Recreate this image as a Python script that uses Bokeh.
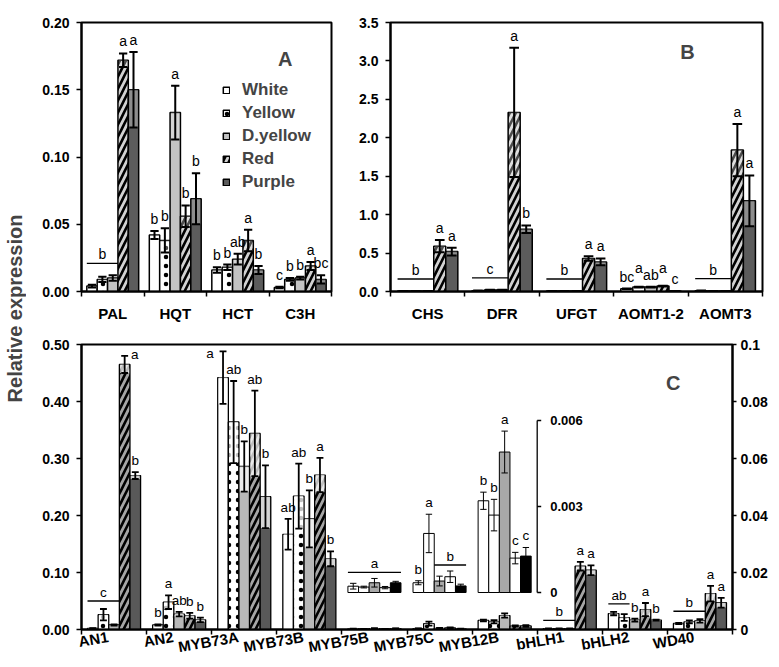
import math
from bokeh.plotting import figure
from bokeh.models import (Range1d, LinearAxis, FixedTicker, Legend, LegendItem, Label,
                          NumeralTickFormatter, CustomJSTickFormatter)
from bokeh.layouts import row, column
from bokeh.embed import file_html
from bokeh.resources import INLINE
from bokeh.core.properties import value

FONT = "Liberation Sans"
SERIES = ["White", "Yellow", "D.yellow", "Red", "Purple"]

# ---------------- Panel A ----------------
A_GENES = ["PAL", "HQT", "HCT", "C3H"]
A_WHITE = [0.004, 0.042, 0.016, 0.003]
A_YELLOW = [0.009, 0.038, 0.018, 0.009]
A_DYELLOW = [0.010, 0.133, 0.024, 0.010]
A_RED = [0.172, 0.056, 0.038, 0.019]
A_PURPLE = [0.150, 0.069, 0.016, 0.009]
A_WHITE_ERR = [0.001, 0.003, 0.002, 0.0005]
A_YELLOW_ERR = [0.002, 0.009, 0.002, 0.001]
A_DYELLOW_ERR = [0.002, 0.020, 0.004, 0.001]
A_RED_ERR = [0.005, 0.008, 0.008, 0.003]
A_PURPLE_ERR = [0.028, 0.019, 0.003, 0.003]
A_LETTERS = [
    ["", "", "", "a", "a"],
    ["b", "b", "a", "b", "b"],
    ["b", "b", "ab", "a", "b"],
    ["c", "b", "b", "a", "bc"],
]
A_LINES = [(0, 0, 2, "b")]
A_TICKS = [0.0, 0.05, 0.10, 0.15, 0.20]

# ---------------- Panel B ----------------
B_GENES = ["CHS", "DFR", "UFGT", "AOMT1-2", "AOMT3"]
B_WHITE = [0.005, 0.010, 0.005, 0.035, 0.010]
B_YELLOW = [0.005, 0.020, 0.005, 0.057, 0.005]
B_DYELLOW = [0.005, 0.020, 0.005, 0.057, 0.005]
B_RED = [0.590, 2.330, 0.430, 0.070, 1.840]
B_PURPLE = [0.520, 0.810, 0.385, 0.005, 1.180]
B_WHITE_ERR = [0.002, 0.003, 0.002, 0.003, 0.002]
B_YELLOW_ERR = [0.002, 0.003, 0.002, 0.004, 0.002]
B_DYELLOW_ERR = [0.002, 0.003, 0.002, 0.004, 0.002]
B_RED_ERR = [0.080, 0.840, 0.030, 0.005, 0.340]
B_PURPLE_ERR = [0.050, 0.050, 0.045, 0.002, 0.330]
B_LETTERS = [
    ["", "", "", "a", "a"],
    ["", "", "", "a", "b"],
    ["", "", "", "a", "a"],
    ["bc", "a", "ab", "a", "c"],
    ["", "", "", "a", "a"],
]
B_LINES = [(0, 0, 2, "b"), (1, 0, 2, "c"), (2, 0, 2, "b"), (4, 0, 2, "b")]
B_TICKS = [0.0, 0.5, 1.0, 1.5, 2.0, 2.5, 3.0, 3.5]

# ---------------- Panel C ----------------
C_GENES = ["AN1", "AN2", "MYB73A", "MYB73B", "MYB75B", "MYB75C", "MYB12B",
           "bHLH1", "bHLH2", "WD40"]
C_WHITE = [0.002, 0.008, 0.442, 0.167, 0.00022, 0.00034, 0.0032, 0.0003, 0.0056, 0.0021]
C_YELLOW = [0.026, 0.048, 0.364, 0.234, 0.00019, 0.00206, 0.0027, 0.0003, 0.0042, 0.0027]
C_DYELLOW = [0.008, 0.027, 0.286, 0.194, 0.00034, 0.00040, 0.0049, 0.0003, 0.0033, 0.0030]
C_RED = [0.465, 0.024, 0.344, 0.271, 0.00017, 0.00055, 0.0012, 0.0222, 0.0070, 0.0126]
C_PURPLE = [0.270, 0.017, 0.233, 0.124, 0.00034, 0.00023, 0.00127, 0.0208, 0.0033, 0.0094]
C_WHITE_ERR = [0.0005, 0.001, 0.046, 0.027, 0.0001, 0.00007, 0.0003, 0.0001, 0.0006, 0.0002]
C_YELLOW_ERR = [0.010, 0.012, 0.072, 0.057, 0.00003, 0.00067, 0.00055, 0.0001, 0.0012, 0.0005]
C_DYELLOW_ERR = [0.001, 0.004, 0.044, 0.050, 0.00015, 0.00017, 0.00073, 0.0001, 0.0005, 0.0006]
C_RED_ERR = [0.015, 0.005, 0.075, 0.030, 0.00004, 0.00020, 0.00020, 0.0015, 0.0023, 0.0027]
C_PURPLE_ERR = [0.006, 0.004, 0.055, 0.013, 0.00005, 0.00006, 0.00030, 0.0017, 0.0002, 0.0017]
C_LETTERS = [
    ["", "", "", "a", "b"],
    ["b", "a", "ab", "b", "b"],
    ["a", "ab", "b", "ab", "b"],
    ["ab", "ab", "b", "a", "b"],
    ["", "", "", "", ""],
    ["b", "a", "", "", ""],
    ["b", "b", "a", "c", "c"],
    ["", "", "", "a", "a"],
    ["", "", "b", "a", "b"],
    ["", "", "", "a", "a"],
]
C_LINES = [(0, 0, 2, "c"), (4, 0, 4, "a"), (5, 2, 4, "b"), (7, 0, 2, "b"),
           (8, 0, 1, "ab"), (9, 0, 2, "b")]
C_LEFT_TICKS = [0.0, 0.1, 0.2, 0.3, 0.4, 0.5]
C_RIGHT_TICKS = [0.0, 0.02, 0.04, 0.06, 0.08, 0.1]
INSET_TICKS = [0.0, 0.003, 0.006]
C_LEFT_GROUPS = [0, 1, 2, 3]
C_RIGHT_GROUPS = [4, 5, 6, 7, 8, 9]
C_INSET_GROUPS = [4, 5, 6]

# ---------------- styles ----------------
FILLS_AB = ["#ffffff", "#ffffff", "#c3c3c3", "#d2d2d2", "#5c5c5c"]
FILLS_C = ["#ffffff", "#ffffff", "#b8b8b8", "#a6a6a6", "#595959"]
FILLS_INSET = ["#ffffff", "#ffffff", "#a8a8a8", "#ffffff", "#000000"]
HATCHES = [None, (".", 9, 1.3), None, ("/", 12, 2.6), None]
NUDGE_B = {(3, 1): (0, 7), (3, 3): (0, 6)}
NUDGE_C = {(0, 3): (10, -10), (2, 0): (-13, -14)}


def style_y(ax, standoff=7, tick_out=5):
    ax.axis_line_width = 2
    ax.axis_line_color = "black"
    ax.major_tick_out = tick_out
    ax.major_tick_in = 0
    ax.major_tick_line_width = 1.5
    ax.minor_tick_line_color = None
    ax.major_label_text_font = FONT
    ax.major_label_text_font_style = "bold"
    ax.major_label_text_font_size = "14px"
    ax.major_label_text_color = "black"
    ax.major_label_standoff = standoff


def make_fig(width, height, n, ymax, ticks, fmt, genes, borders, label_shift=0.0,
             orient="horizontal", xstandoff=8):
    p = figure(width=width, height=height, x_range=Range1d(0, n), y_range=Range1d(0, ymax),
               toolbar_location=None, output_backend="svg",
               min_border_left=borders[0], min_border_right=borders[1],
               min_border_top=borders[2], min_border_bottom=borders[3])
    p.grid.visible = False
    p.outline_line_color = "black"
    p.outline_line_width = 2
    p.background_fill_color = "white"
    p.border_fill_color = "white"
    yax = p.yaxis[0]
    yax.ticker = FixedTicker(ticks=ticks)
    yax.formatter = NumeralTickFormatter(format=fmt)
    style_y(yax)
    xax = p.xaxis[0]
    xax.ticker = FixedTicker(ticks=[i + 0.5 + label_shift for i in range(n)],
                             minor_ticks=list(range(n + 1)))
    xax.formatter = CustomJSTickFormatter(args=dict(names=genes),
                                          code="return names[Math.floor(tick)] || '';")
    xax.axis_line_width = 2
    xax.major_tick_out = 0
    xax.major_tick_in = 0
    xax.minor_tick_out = 5
    xax.minor_tick_in = 0
    xax.minor_tick_line_width = 1.5
    xax.minor_tick_line_color = "black"
    xax.major_label_text_font = FONT
    xax.major_label_text_font_style = "bold"
    xax.major_label_text_font_size = "15px"
    xax.major_label_text_color = "black"
    xax.major_label_standoff = xstandoff
    xax.major_label_orientation = orient
    return p


def bar_x(g, j, bw):
    return g + 0.5 + (j - 2) * bw


def draw_bars(p, groups, vals, errs, bw, rname, fills, hatches, lw, overlay_alpha,
              cap_frac, err_lw):
    rends = []
    for j in range(5):
        xs = [bar_x(g, j, bw) for g in groups]
        tops = [vals[j][g] for g in groups]
        kw = dict(fill_color=fills[j], line_color="black", line_width=lw)
        if hatches[j]:
            kw.update(hatch_pattern=hatches[j][0], hatch_scale=hatches[j][1],
                      hatch_weight=hatches[j][2], hatch_color="black")
        r = p.vbar(x=xs, top=tops, bottom=0, width=bw, y_range_name=rname, **kw)
        rends.append(r)
    ox0, ox1, ob, ot = [], [], [], []
    ex, elo, ehi = [], [], []
    for j in range(5):
        for g in groups:
            v, e = vals[j][g], errs[j][g]
            x = bar_x(g, j, bw)
            ox0.append(x - bw * 0.42)
            ox1.append(x + bw * 0.42)
            ob.append(max(v - e, 0))
            ot.append(v)
            ex.append(x)
            elo.append(max(v - e, 0))
            ehi.append(v + e)
    if overlay_alpha > 0:
        p.quad(left=ox0, right=ox1, bottom=ob, top=ot, fill_color="white",
               fill_alpha=overlay_alpha, line_alpha=0, y_range_name=rname)
    cw = bw * cap_frac / 2
    p.segment(x0=ex, x1=ex, y0=elo, y1=ehi, line_color="black", line_width=err_lw,
              y_range_name=rname)
    p.segment(x0=[x - cw for x in ex], x1=[x + cw for x in ex], y0=ehi, y1=ehi,
              line_color="black", line_width=err_lw, y_range_name=rname)
    p.segment(x0=[x - cw for x in ex], x1=[x + cw for x in ex], y0=elo, y1=elo,
              line_color="black", line_width=err_lw, y_range_name=rname)
    return rends


def draw_letters(p, groups, vals, errs, letters, lines, bw, upp, gpx, rname, size,
                 gap, nudges, pad=4):
    xs, ys, ts = [], [], []
    for g in groups:
        for j in range(5):
            t = letters[g][j]
            if not t:
                continue
            dx, dy = nudges.get((g, j), (0, 0))
            xs.append(bar_x(g, j, bw) + dx / gpx)
            ys.append(vals[j][g] + errs[j][g] + (pad + dy) * upp)
            ts.append(t)
    lx0, lx1, ly = [], [], []
    for (g, j0, j1, t) in lines:
        if g not in groups:
            continue
        top = max(vals[j][g] + errs[j][g] for j in range(j0, j1 + 1))
        y = top + gap * upp
        x0 = bar_x(g, j0, bw) - 0.5 * bw
        x1 = bar_x(g, j1, bw) + 0.5 * bw
        lx0.append(x0)
        lx1.append(x1)
        ly.append(y)
        xs.append((x0 + x1) / 2)
        ys.append(y + 1 * upp)
        ts.append(t)
    if lx0:
        p.segment(x0=lx0, x1=lx1, y0=ly, y1=ly, line_color="black", line_width=1.3,
                  y_range_name=rname)
    if xs:
        p.text(x=xs, y=ys, text=ts, text_align="center", text_baseline="bottom",
               text_font=value(FONT), text_font_size=size, text_color="black",
               y_range_name=rname)


# ---------------- Panel A figure ----------------
A_VALS = [A_WHITE, A_YELLOW, A_DYELLOW, A_RED, A_PURPLE]
A_ERRS = [A_WHITE_ERR, A_YELLOW_ERR, A_DYELLOW_ERR, A_RED_ERR, A_PURPLE_ERR]
pA = make_fig(314, 324, len(A_GENES), 0.20, A_TICKS, "0.00", A_GENES, (55, 9, 22, 32))
bwA = 0.166
upA = 0.20 / 270
rA = draw_bars(pA, range(4), A_VALS, A_ERRS, bwA, "default", FILLS_AB, HATCHES, 1.5,
               0.3, 0.8, 2)
draw_letters(pA, range(4), A_VALS, A_ERRS, A_LETTERS, A_LINES, bwA, upA, 62.5,
             "default", "14px", 12, {})
legend = Legend(items=[LegendItem(label=s, renderers=[rA[j]]) for j, s in enumerate(SERIES)],
                location=(141, 99), orientation="vertical", padding=0, margin=0,
                spacing=3, glyph_width=8, glyph_height=8, label_height=20,
                label_standoff=12, label_text_font=FONT, label_text_font_style="bold",
                label_text_font_size="17px", border_line_alpha=0,
                background_fill_alpha=0)
pA.add_layout(legend)
pA.add_layout(Label(x=3.26, y=0.173, text="A", text_font=FONT, text_font_style="bold",
                    text_font_size="20px", text_align="center", text_baseline="middle"))

# ---------------- Panel B figure ----------------
B_VALS = [B_WHITE, B_YELLOW, B_DYELLOW, B_RED, B_PURPLE]
B_ERRS = [B_WHITE_ERR, B_YELLOW_ERR, B_DYELLOW_ERR, B_RED_ERR, B_PURPLE_ERR]
pB = make_fig(437, 324, len(B_GENES), 3.5, B_TICKS, "0.0", B_GENES, (50, 15, 22, 32))
bwB = 0.162
upB = 3.5 / 270
draw_bars(pB, range(5), B_VALS, B_ERRS, bwB, "default", FILLS_AB, HATCHES, 1.5, 0.3,
          0.8, 2)
draw_letters(pB, range(5), B_VALS, B_ERRS, B_LETTERS, B_LINES, bwB, upB, 74.4,
             "default", "14px", 12, NUDGE_B)
pB.add_layout(Label(x=3.99, y=3.11, text="B", text_font=FONT, text_font_style="bold",
                    text_font_size="20px", text_align="center", text_baseline="middle"))

# ---------------- Panel C figure ----------------
C_VALS = [C_WHITE, C_YELLOW, C_DYELLOW, C_RED, C_PURPLE]
C_ERRS = [C_WHITE_ERR, C_YELLOW_ERR, C_DYELLOW_ERR, C_RED_ERR, C_PURPLE_ERR]
pC = make_fig(751, 342, len(C_GENES), 0.5, C_LEFT_TICKS, "0.00", C_GENES,
              (55, 45, 20, 37), label_shift=-0.09, orient=0.17, xstandoff=2)
frameC = 285
inset_u = 0.006 / 172
inset_start = -37 * inset_u
pC.extra_y_ranges = {"right": Range1d(0, 0.1),
                     "inset": Range1d(inset_start, inset_start + frameC * inset_u)}
rax = LinearAxis(y_range_name="right", ticker=FixedTicker(ticks=C_RIGHT_TICKS),
                 formatter=CustomJSTickFormatter(code="return String(parseFloat(tick.toFixed(4)));"))
style_y(rax, standoff=4, tick_out=4)
pC.add_layout(rax, "right")

bwC = 0.163
gpxC = 65.1
upL = 0.5 / frameC
upR = 0.1 / frameC
draw_bars(pC, C_LEFT_GROUPS, C_VALS, C_ERRS, bwC, "default", FILLS_C, HATCHES, 1.3,
          0.75, 0.65, 1.8)
draw_bars(pC, C_RIGHT_GROUPS, C_VALS, C_ERRS, bwC, "right", FILLS_C, HATCHES, 1.3,
          0.75, 0.65, 1.8)
draw_letters(pC, C_LEFT_GROUPS, C_VALS, C_ERRS, C_LETTERS, C_LINES, bwC, upL, gpxC,
             "default", "13.5px", 8, NUDGE_C)
draw_letters(pC, [7, 8, 9], C_VALS, C_ERRS, C_LETTERS, C_LINES, bwC, upR, gpxC,
             "right", "13.5px", 8, NUDGE_C)

# inset
draw_bars(pC, C_INSET_GROUPS, C_VALS, C_ERRS, bwC, "inset", FILLS_INSET,
          [None] * 5, 1.0, 0, 0.6, 1.0)
draw_letters(pC, C_INSET_GROUPS, C_VALS, C_ERRS, C_LETTERS, C_LINES, bwC, inset_u,
             gpxC, "inset", "13.5px", 6, {})
ax_x = C_INSET_GROUPS[-1] + 1.0
pC.segment(x0=[ax_x], x1=[ax_x], y0=[INSET_TICKS[0]], y1=[INSET_TICKS[-1]],
           line_color="black", line_width=1.3, y_range_name="inset")
pC.segment(x0=[ax_x] * 3, x1=[ax_x + 4 / gpxC] * 3, y0=INSET_TICKS, y1=INSET_TICKS,
           line_color="black", line_width=1.3, y_range_name="inset")
pC.text(x=[ax_x + 13 / gpxC] * 3, y=INSET_TICKS, text=["0", "0.003", "0.006"],
        text_align="left", text_baseline="middle", text_font=value(FONT),
        text_font_style="bold", text_font_size="13px", text_color="black",
        y_range_name="inset")
pC.add_layout(Label(x=9.09, y=0.432, text="C", text_font=FONT, text_font_style="bold",
                    text_font_size="20px", text_align="center", text_baseline="middle"))

# ---------------- shared y title ----------------
TOTAL_H = 666
pT = figure(width=26, height=TOTAL_H, x_range=Range1d(0, 1), y_range=Range1d(0, 1),
            toolbar_location=None, output_backend="svg", x_axis_type=None,
            y_axis_type=None, min_border=0)
pT.outline_line_color = None
pT.add_layout(Label(x=14, y=TOTAL_H - 308, x_units="screen", y_units="screen",
                    text="Relative expression", angle=math.pi / 2, text_align="center",
                    text_baseline="alphabetic", text_font=FONT, text_font_style="bold",
                    text_font_size="20px"))

layout = row(pT, column(row(pA, pB), pC))
open("out.html", "w").write(file_html(layout, INLINE))
